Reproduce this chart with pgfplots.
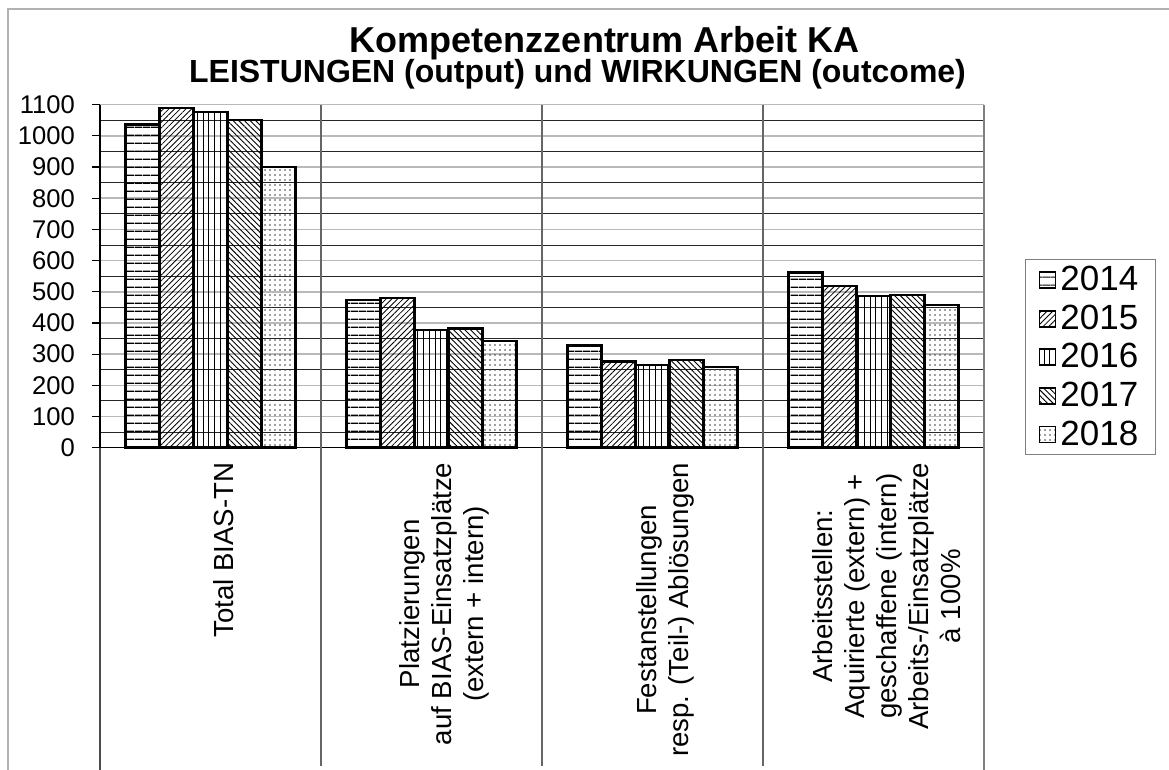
\documentclass[border=0pt]{standalone}
\usepackage{fontspec}
\setmainfont{Liberation Sans}
\usepackage{pgfplots}
\usepackage{pgfplotstable}
\pgfplotsset{compat=1.18}
\usetikzlibrary{patterns.meta}

\pgfplotstableread{
x  y2014 y2015 y2016 y2017 y2018
0  1036  1090  1076  1050  900
1  474   480   377   382   343
2  328   277   266   281   258
3  562   518   487   489   457
}\datatable

\begin{document}
\begin{tikzpicture}
\draw[gray!60, line width=0.9pt] (4pt,0pt) -- (4pt,380.5pt) -- (584.5pt,380.5pt);
\node[font=\bfseries\fontsize{18}{21}\selectfont, anchor=base, inner sep=0pt] at (302.5pt,358.5pt) {Kompetenzzentrum Arbeit KA};
\node[font=\bfseries\fontsize{16}{19}\selectfont, anchor=base, inner sep=0pt] at (288.75pt,343.5pt) {LEISTUNGEN (output) und WIRKUNGEN (outcome)};
\begin{axis}[
  at={(50pt,161.15pt)}, anchor=south west,
  scale only axis, width=442pt, height=171.5pt,
  ybar=0pt, bar width=17pt,
  xmin=-0.5, xmax=3.5, ymin=0, ymax=1100,
  clip=false,
  axis lines=left,
  axis line style={-, black, line width=0.8pt},
  xtick={0,1,2,3},
  xticklabels={{Total BIAS-TN},
    {Platzierungen\\auf BIAS-Einsatzplätze\\(extern + intern)},
    {Festanstellungen\\resp. (Teil-) Ablösungen},
    {Arbeitsstellen:\\Aquirierte (extern) +\\geschaffene (intern)\\Arbeits-/Einsatzplätze\\à 100\%}},
  xtick style={draw=none},
  xticklabel style={rotate=90, anchor=east, align=center, font=\fontsize{13.8}{16}\selectfont, yshift=-6.5pt},
  ytick={0,100,...,1100},
  minor y tick num=1,
  ymajorgrids, yminorgrids,
  major grid style={gray!55, line width=0.8pt},
  minor grid style={black!85, line width=0.45pt},
  tick align=outside, major tick length=4pt, minor tick length=0pt,
  ytick style={black, line width=0.6pt},
  yticklabel style={font=\fontsize{12.8}{14}\selectfont, xshift=-5pt},
  /pgf/number format/assume math mode=true,
  /pgf/number format/1000 sep={},
  legend style={at={(1.0464,0.55)}, anchor=north west, draw=gray, line width=0.6pt,
    font=\fontsize{17.5}{20}\selectfont, inner xsep=6.5pt, inner ysep=0.5pt, row sep=0pt,
    nodes={inner xsep=2pt, inner ysep=2.8pt}},
  legend cell align=left,
  /tikz/every even column/.append style={column sep=0.5pt},
  legend image code/.code={\draw[#1, line width=0.9pt] (0pt,-4pt) rectangle (8pt,4pt);},
  every axis plot/.append style={draw=black, line width=1.2pt, pattern color=black},
]
\addplot[pattern={Lines[angle=0,distance=3.85pt,line width=0.6pt]}] table[x=x,y=y2014]{\datatable};
\addplot[pattern={Lines[angle=45,distance=2pt,line width=0.4pt]}] table[x=x,y=y2015]{\datatable};
\addplot[pattern={Lines[angle=90,distance=2.9pt,line width=0.45pt]}] table[x=x,y=y2016]{\datatable};
\addplot[pattern={Lines[angle=-45,distance=2pt,line width=0.45pt]}] table[x=x,y=y2017]{\datatable};
\addplot[pattern={Dots[distance=2.5pt,radius=0.4pt]}, pattern color=black!75] table[x=x,y=y2018]{\datatable};
\legend{2014,2015,2016,2017,2018}
\draw[black!70, line width=0.9pt] (axis cs:-0.5,0) -- (axis cs:-0.5,-1040);
\draw[black!60, line width=0.7pt] (axis cs:0.5,1100) -- (axis cs:0.5,-1020);
\draw[black!60, line width=0.7pt] (axis cs:1.5,1100) -- (axis cs:1.5,-1020);
\draw[black!60, line width=0.7pt] (axis cs:2.5,1100) -- (axis cs:2.5,-1020);
\draw[black!50, line width=0.9pt] (axis cs:3.5,1100) -- (axis cs:3.5,-1040);
\end{axis}
\pgfresetboundingbox
\useasboundingbox (0pt,0pt) rectangle (584.5pt,385pt);
\end{tikzpicture}
\end{document}
